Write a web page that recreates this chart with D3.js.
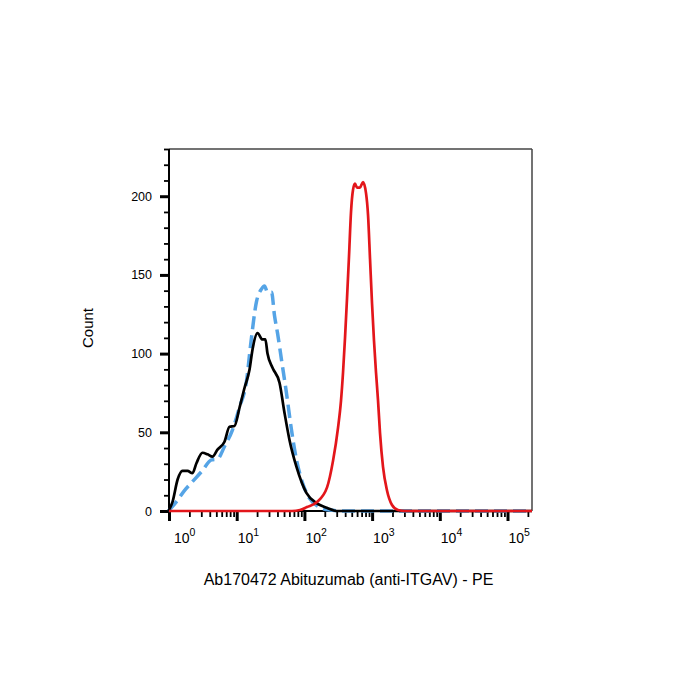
<!DOCTYPE html>
<html>
<head>
<meta charset="utf-8">
<script src="https://cdn.jsdelivr.net/npm/d3@7"></script>
<style>
  body { margin: 0; background: #fff; }
  svg text { font-family: Arial, "Liberation Sans", sans-serif; fill: #000; }
</style>
</head>
<body>
<svg></svg>
<script>
// data (x = PE intensity, y = count)
const isotypeX = [0.98, 1.29, 1.69, 2.15, 3.02, 4.25, 5.2, 6.6, 8.67, 11.0, 14.0, 16.0, 19.6, 23.2, 25.7, 28.5, 32.7, 36.2, 40.1, 45.9, 54.3, 64.4, 76.4, 93.7, 119, 167, 235, 390, 1000, 10000, 230000];
const isotypeY = [0, 6, 13, 18, 25, 32.5, 33, 41, 51.6, 66, 83, 105, 133, 141, 143, 139, 139, 124, 113, 96, 75, 51.6, 32.5, 18, 8, 2.5, 0.6, 0, 0, 0, 0];

const unstainedX = [0.98, 1.13, 1.34, 1.58, 1.88, 2.22, 2.55, 3.12, 3.71, 4.39, 5.2, 6.6, 7.83, 9.27, 11.0, 13.0, 15.5, 17.1, 20.3, 24.0, 26.5, 28.5, 33.8, 42.9, 50.8, 60.3, 76.4, 107, 151, 214, 299, 1000, 10000, 230000];
const unstainedY = [0, 6, 20, 25.5, 25.5, 24, 30.5, 37, 36, 34.5, 39, 44, 53.5, 54, 65.6, 78, 90, 102.5, 113, 109, 109, 100, 91, 81.5, 62.4, 45, 28, 11.5, 5, 2, 0, 0, 0, 0];

const stainedX = [1, 65.6, 86, 109, 153, 216, 265, 314, 347, 372, 398, 426, 456, 488, 522, 559, 598, 662, 734, 813, 871, 932, 997, 1067, 1142, 1222, 1309, 1449, 1660, 1968, 2410, 3060, 230000];
const stainedY = [0, 0, 0.6, 2.5, 5.7, 15, 32, 53, 70, 88, 110, 135, 162, 190, 204, 208, 205.5, 205.5, 209, 202, 188, 160, 132, 108, 88, 70.5, 49.5, 28, 13, 3.8, 0.6, 0, 0];

const yMajor = [0, 50, 100, 150, 200];
const xMajor = [1, 10, 100, 1000, 10000, 100000];
const xExp = ["0", "1", "2", "3", "4", "5"];

const width = 700;
const height = 700;
const plotLeft = 169, plotRight = 532, plotTop = 149, plotBottom = 511;

let svg = d3.select("svg").attr("width", width).attr("height", height);

let x = d3.scaleLog().domain([1, 230000]).range([plotLeft, plotRight]);
let y = d3.scaleLinear().domain([0, 230]).range([plotBottom, plotTop]);

function drawAxes() {
  // frame top / right
  svg.append("line").attr("x1", plotLeft).attr("x2", plotRight).attr("y1", plotTop).attr("y2", plotTop)
    .attr("stroke", "#444").attr("stroke-width", 1.5);
  svg.append("line").attr("x1", plotRight).attr("x2", plotRight).attr("y1", plotTop).attr("y2", plotBottom)
    .attr("stroke", "#444").attr("stroke-width", 1.5);

  // y minor ticks
  let yMinor = d3.range(10, 231, 10).filter(v => v % 50 != 0);
  let gyMinor = svg.append("g")
    .attr("transform", "translate(" + plotLeft + ",0)")
    .call(d3.axisLeft(y).tickValues(yMinor).tickSize(5).tickFormat(""));
  gyMinor.select(".domain").remove();
  gyMinor.selectAll("line").attr("stroke-width", 1.8);

  let gy = svg.append("g")
    .attr("transform", "translate(" + plotLeft + ",0)")
    .call(d3.axisLeft(y).tickValues(yMajor).tickSize(9).tickPadding(8));
  gy.select(".domain").remove();
  gy.selectAll("line").attr("stroke-width", 3);
  gy.selectAll("text").style("font-size", "12.5px");

  // x minor ticks
  let xMinor = [];
  for (let k = 0; k < 5; k++) {
    for (let m = 2; m < 10; m++) xMinor.push(m * Math.pow(10, k));
  }
  xMinor.push(200000);
  let gxMinor = svg.append("g")
    .attr("transform", "translate(0," + plotBottom + ")")
    .call(d3.axisBottom(x).tickValues(xMinor).tickSize(6).tickFormat(""));
  gxMinor.select(".domain").remove();
  gxMinor.selectAll("line").attr("stroke-width", 1.8);

  let gx = svg.append("g")
    .attr("transform", "translate(0," + plotBottom + ")")
    .call(d3.axisBottom(x).tickValues(xMajor).tickSize(10).tickFormat(""));
  gx.select(".domain").remove();
  gx.selectAll("line").attr("stroke-width", 3);

  let lab = svg.append("g").selectAll("text")
    .data(xMajor)
    .enter()
    .append("text")
    .attr("x", (d, i) => x(d) + (i == 0 ? 5 : 1))
    .attr("y", 543)
    .style("font-size", "14px");
  lab.append("tspan").text("10");
  lab.append("tspan").text((d, i) => xExp[i]).attr("dy", -7).style("font-size", "10.5px");

  // axis lines
  svg.append("line").attr("x1", plotLeft).attr("x2", plotLeft).attr("y1", plotTop).attr("y2", plotBottom + 1)
    .attr("stroke", "#000").attr("stroke-width", 2);
  svg.append("line").attr("x1", plotLeft).attr("x2", plotRight).attr("y1", plotBottom).attr("y2", plotBottom)
    .attr("stroke", "#000").attr("stroke-width", 2);

  // titles
  svg.append("text")
    .attr("x", 348.5).attr("y", 585)
    .attr("text-anchor", "middle")
    .style("font-size", "16px")
    .text("Ab170472 Abituzumab (anti-ITGAV) - PE");
  svg.append("text")
    .attr("transform", "translate(93,328) rotate(-90)")
    .attr("text-anchor", "middle")
    .style("font-size", "15px")
    .text("Count");
}

function drawCurves() {
  let line = d3.line()
    .x(d => x(d[0]))
    .y(d => y(d[1]))
    .curve(d3.curveMonotoneX);

  svg.append("path")
    .datum(d3.zip(isotypeX, isotypeY))
    .attr("d", line)
    .attr("fill", "none")
    .attr("stroke", "#55a4e6")
    .attr("stroke-width", 3.5)
    .attr("stroke-dasharray", "13,6");

  svg.append("path")
    .datum(d3.zip(unstainedX, unstainedY))
    .attr("d", line)
    .attr("fill", "none")
    .attr("stroke", "#000")
    .attr("stroke-width", 2.7);

  svg.append("path")
    .datum(d3.zip(stainedX, stainedY))
    .attr("d", line)
    .attr("fill", "none")
    .attr("stroke", "#e3161b")
    .attr("stroke-width", 2.7);
}

drawAxes();
drawCurves();
</script>
</body>
</html>
